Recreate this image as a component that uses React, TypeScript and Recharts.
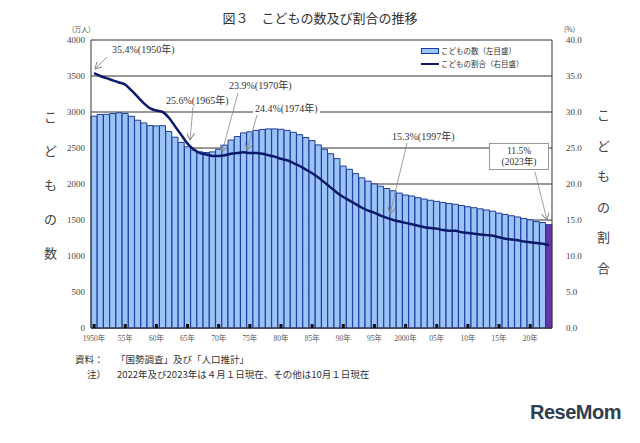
import { ComposedChart, Bar, Line, XAxis, YAxis, CartesianGrid, Cell } from "recharts";

const YEARS = [
  1950, 1951, 1952, 1953, 1954, 1955, 1956, 1957, 1958, 1959,
  1960, 1961, 1962, 1963, 1964, 1965, 1966, 1967, 1968, 1969,
  1970, 1971, 1972, 1973, 1974, 1975, 1976, 1977, 1978, 1979,
  1980, 1981, 1982, 1983, 1984, 1985, 1986, 1987, 1988, 1989,
  1990, 1991, 1992, 1993, 1994, 1995, 1996, 1997, 1998, 1999,
  2000, 2001, 2002, 2003, 2004, 2005, 2006, 2007, 2008, 2009,
  2010, 2011, 2012, 2013, 2014, 2015, 2016, 2017, 2018, 2019,
  2020, 2021, 2022, 2023,
];

// こどもの数（万人）
const CHILDREN = [
  2943, 2966, 2968, 2978, 2989, 2980, 2940, 2886, 2848, 2812,
  2807, 2810, 2730, 2650, 2578, 2517, 2471, 2447, 2437, 2446,
  2482, 2540, 2610, 2660, 2710, 2725, 2745, 2758, 2765, 2765,
  2760, 2745, 2718, 2685, 2645, 2603, 2543, 2483, 2420, 2353,
  2249, 2204, 2144, 2085, 2040, 2001, 1969, 1937, 1906, 1874,
  1847, 1834, 1810, 1791, 1774, 1759, 1744, 1730, 1718, 1701,
  1684, 1671, 1655, 1639, 1623, 1595, 1578, 1559, 1542, 1521,
  1503, 1478, 1465, 1435,
];

// こどもの割合（％）
const RATIO = [
  35.4, 35.0, 34.7, 34.4, 34.1, 33.8, 33.0, 32.1, 31.2, 30.5,
  30.2, 30.0, 29.2, 28.0, 26.8, 25.6, 24.8, 24.3, 24.1, 23.9,
  23.9, 24.0, 24.2, 24.3, 24.4, 24.3, 24.3, 24.2, 24.0, 23.8,
  23.5, 23.3, 22.9, 22.5, 22.0, 21.5, 20.9, 20.2, 19.5, 18.8,
  18.2, 17.7, 17.2, 16.7, 16.3, 16.0, 15.6, 15.3, 15.0, 14.8,
  14.6, 14.4, 14.2, 14.0, 13.9, 13.8, 13.6, 13.5, 13.5, 13.3,
  13.2, 13.1, 13.0, 12.9, 12.8, 12.6, 12.4, 12.3, 12.2, 12.0,
  11.9, 11.8, 11.7, 11.5,
];

const LEFT_TICKS = [0, 500, 1000, 1500, 2000, 2500, 3000, 3500, 4000];
const RIGHT_TICKS = [0, 5, 10, 15, 20, 25, 30, 35, 40];

const data = YEARS.map((year, i) => ({ year, children: CHILDREN[i], ratio: RATIO[i] }));

const SERIF = '"Liberation Serif", "Noto Sans CJK JP", serif';
const JP = '"Noto Sans CJK JP", sans-serif';

function yearLabel(y: number) {
  if (y === 1950 || y === 2000) return `${y}年`;
  return `${String(y).slice(2)}年`;
}

function XTick(props: any) {
  const { x, y, payload } = props;
  const yr = payload.value as number;
  if (yr % 5 !== 0) return <g />;
  return (
    <g>
      <rect x={x - 1.5} y={y - 4} width={3} height={4} fill="#111" />
      <text x={x} y={y + 13} textAnchor="middle" fontSize={7.5} fill="#555" fontFamily={SERIF}>
        {yearLabel(yr)}
      </text>
    </g>
  );
}

const notes = [
  { text: "35.4%(1950年)", left: 110, top: 44 },
  { text: "25.6%(1965年)", left: 164, top: 95 },
  { text: "23.9%(1970年)", left: 227, top: 80 },
  { text: "24.4%(1974年)", left: 253, top: 103 },
  { text: "15.3%(1997年)", left: 390, top: 131 },
];

const arrows = [
  [107, 57, 95, 69],
  [193, 107, 190, 140],
  [238, 93, 222, 152],
  [257, 115, 247, 150],
  [407, 143, 390, 214],
  [535, 172, 547, 220],
];

export default function App() {
  return (
    <div style={{ position: "absolute", left: 0, top: 0, width: 640, height: 443, background: "#fff", overflow: "hidden" }}>
      <ComposedChart
        width={640}
        height={443}
        data={data}
        margin={{ top: 40, right: 38, bottom: 95, left: 46 }}
        barCategoryGap={0}
        barGap={0}
      >
        <CartesianGrid yAxisId="left" vertical={false} stroke="#333" strokeWidth={1} />
        <XAxis
          dataKey="year"
          interval={0}
          tick={<XTick />}
          tickLine={false}
          tickSize={0}
          tickMargin={0}
          axisLine={{ stroke: "#333" }}
          height={20}
        />
        <YAxis
          yAxisId="left"
          domain={[0, 4000]}
          ticks={LEFT_TICKS}
          width={45}
          tickLine={false}
          tickSize={0}
          tickMargin={6}
          axisLine={{ stroke: "#333" }}
          tick={{ fontSize: 9, fill: "#444", fontFamily: SERIF }}
        />
        <YAxis
          yAxisId="right"
          orientation="right"
          domain={[0, 40]}
          ticks={RIGHT_TICKS}
          width={50}
          tickLine={false}
          tickSize={0}
          tickMargin={14}
          axisLine={{ stroke: "#333" }}
          tickFormatter={(v) => Number(v).toFixed(1)}
          tick={{ fontSize: 9, fill: "#444", fontFamily: SERIF, textAnchor: "start" }}
        />
        <Bar yAxisId="left" dataKey="children" stroke="#1d3c9e" strokeWidth={1} isAnimationActive={false}>
          {data.map((d) => (
            <Cell key={d.year} fill={d.year === 2023 ? "#6a34a8" : "#9cc3f5"} />
          ))}
        </Bar>
        <Line
          yAxisId="right"
          dataKey="ratio"
          type="monotone"
          stroke="#0c1a6b"
          strokeWidth={2.5}
          dot={false}
          isAnimationActive={false}
        />
      </ComposedChart>

      {/* 注記の矢印 */}
      <svg width={640} height={443} style={{ position: "absolute", left: 0, top: 0, pointerEvents: "none" }}>
        <defs>
          <marker id="arr" markerWidth="8" markerHeight="8" refX="7" refY="4" orient="auto" markerUnits="userSpaceOnUse">
            <path d="M0,0 L7,4 L0,8" fill="none" stroke="#888" strokeWidth={1} />
          </marker>
        </defs>
        {arrows.map(([x1, y1, x2, y2], i) => (
          <line key={i} x1={x1} y1={y1} x2={x2} y2={y2} stroke="#888" strokeWidth={0.8} markerEnd="url(#arr)" />
        ))}
      </svg>

      {notes.map((n) => (
        <div
          key={n.text}
          style={{
            position: "absolute",
            left: n.left,
            top: n.top,
            fontSize: 10,
            lineHeight: "12px",
            fontFamily: SERIF,
            color: "#333",
            background: "#fff",
            padding: "0 2px",
            whiteSpace: "nowrap",
          }}
        >
          {n.text}
        </div>
      ))}

      <div
        style={{
          position: "absolute",
          left: 489,
          top: 143,
          width: 60,
          height: 27,
          border: "1px solid #999",
          background: "#fff",
          fontFamily: SERIF,
          fontSize: 9.5,
          lineHeight: "11px",
          color: "#333",
          textAlign: "center",
          paddingTop: 2,
          boxSizing: "border-box",
        }}
      >
        <div>11.5%</div>
        <div>(2023年)</div>
      </div>

      {/* 凡例 */}
      <div style={{ position: "absolute", left: 421, top: 44, fontFamily: JP, fontSize: 7.5, color: "#333", lineHeight: "13px" }}>
        <div style={{ display: "flex", alignItems: "center" }}>
          <span style={{ display: "inline-block", width: 16, height: 4, background: "#9cc3f5", border: "1px solid #1d3c9e", marginRight: 2 }} />
          こどもの数（左目盛）
        </div>
        <div style={{ display: "flex", alignItems: "center" }}>
          <span style={{ display: "inline-block", width: 18, height: 2, background: "#0c1a6b", marginRight: 2 }} />
          こどもの割合（右目盛）
        </div>
      </div>

      <div style={{ position: "absolute", left: 0, width: 640, top: 8, textAlign: "center", fontFamily: JP, fontSize: 13, color: "#333" }}>
        図３　こどもの数及び割合の推移
      </div>
      <div style={{ position: "absolute", left: 72, top: 24, fontFamily: JP, fontSize: 7, color: "#555" }}>(万人)</div>
      <div style={{ position: "absolute", left: 564, top: 24, fontFamily: JP, fontSize: 7, color: "#555" }}>(%)</div>

      <div style={{ position: "absolute", left: 44, top: 110, display: "flex", flexDirection: "column", gap: 21, fontFamily: JP, fontSize: 13, lineHeight: "13px", color: "#444" }}>
        {"こどもの数".split("").map((c, i) => (
          <span key={i}>{c}</span>
        ))}
      </div>
      <div style={{ position: "absolute", left: 597, top: 108, display: "flex", flexDirection: "column", gap: 17.6, fontFamily: JP, fontSize: 13, lineHeight: "13px", color: "#444" }}>
        {"こどもの割合".split("").map((c, i) => (
          <span key={i}>{c}</span>
        ))}
      </div>

      <div style={{ position: "absolute", left: 75, top: 352, fontFamily: JP, fontSize: 9.5, color: "#333", whiteSpace: "nowrap" }}>
        資料：
        <span style={{ position: "absolute", left: 41 }}>「国勢調査」及び「人口推計」</span>
      </div>
      <div style={{ position: "absolute", left: 87, top: 367, fontFamily: JP, fontSize: 9.5, color: "#333", whiteSpace: "nowrap" }}>
        注）
        <span style={{ position: "absolute", left: 30 }}>2022年及び2023年は４月１日現在、その他は10月１日現在</span>
      </div>

      <div style={{ position: "absolute", left: 530, top: 401, fontFamily: '"Liberation Sans", Arial, sans-serif', fontSize: 20, fontWeight: "bold", color: "#2e3e50", letterSpacing: -0.5 }}>
        ReseMom
      </div>
    </div>
  );
}
